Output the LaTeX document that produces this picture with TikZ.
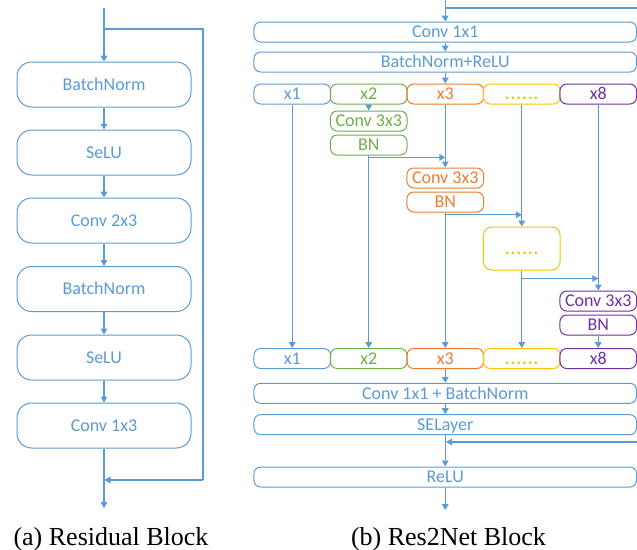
\documentclass[tikz,border=0pt]{standalone}
\usepackage{fontspec}
\setmainfont{Carlito}
\newfontfamily\capfont{Liberation Serif}
\usetikzlibrary{arrows.meta}
\definecolor{cblue}{HTML}{5B9BD5}
\definecolor{cgreen}{HTML}{70AD47}
\definecolor{corange}{HTML}{ED7D31}
\definecolor{cyellow}{HTML}{FFC000}
\definecolor{cpurple}{HTML}{7030A0}
\newcommand\sixdots{\textbf{.\kern0.7pt.\kern0.7pt.\kern0.7pt.\kern0.7pt.\kern0.7pt.}}
\begin{document}
\begin{tikzpicture}[x=0.75pt,y=-0.75pt,
  every node/.style={font=\fontsize{13.5}{16}\selectfont, inner sep=0pt, text height=8.7pt, text depth=0pt},
  bigbox/.style={draw=cblue, text=cblue, line width=0.75pt, rounded corners=11pt, minimum width=130.5pt, minimum height=33.75pt},
  widebox/.style={draw=cblue, text=cblue, line width=0.75pt, rounded corners=5pt, minimum width=286.9pt, minimum height=15pt},
  rowbox/.style={draw=#1, text=#1, line width=0.75pt, rounded corners=5pt, minimum width=57.4pt, minimum height=15pt},
  tallbox/.style={draw=#1, text=#1, line width=0.75pt, rounded corners=6pt, minimum width=57.4pt, minimum height=32.25pt},
  arr/.style={draw=cblue, line width=0.9pt, -{Triangle[length=4.5pt,width=5pt]}},
  ln/.style={draw=cblue, line width=0.9pt},
  capt/.style={font=\capfont\fontsize{19.5}{22}\selectfont, text=black, anchor=base, text height=13pt, text depth=4pt}
]
\useasboundingbox (0,0) rectangle (637,550);

% ---------- (a) Residual Block ----------
\node[bigbox] (l1) at (104,84.5) {BatchNorm};
\node[bigbox] (l2) at (104,152.5) {SeLU};
\node[bigbox] (l3) at (104,220.5) {Conv 2x3};
\node[bigbox] (l4) at (104,289) {BatchNorm};
\node[bigbox] (l5) at (104,357.5) {SeLU};
\node[bigbox] (l6) at (104,425.5) {Conv 1x3};
\coordinate (lin) at (104,8);
\coordinate (lsplit) at (104,29);
\coordinate (lc1) at (203,29);
\coordinate (lc2) at (203,480);
\coordinate (lmerge) at (104.5,480);
\coordinate (lout) at (104,508);
\draw[arr] (lin) -- (l1);
\draw[arr] (l1) -- (l2);
\draw[arr] (l2) -- (l3);
\draw[arr] (l3) -- (l4);
\draw[arr] (l4) -- (l5);
\draw[arr] (l5) -- (l6);
\draw[arr] (l6) -- (lout);
\draw[ln] (lsplit) -- (lc1) -- (lc2);
\draw[arr] (lc2) -- (lmerge);
\node[capt] (capa) at (111,545) {(a) Residual Block};

% ---------- (b) Res2Net Block ----------
\node[widebox] (c1) at (445.25,32) {Conv 1x1};
\node[widebox] (bnr) at (445.25,62) {BatchNorm+ReLU};
\node[rowbox=cblue] (a1) at (292.25,94) {x1};
\node[rowbox=cgreen] (a2) at (368.75,94) {x2};
\node[rowbox=corange] (a3) at (445.25,94) {x3};
\node[rowbox=cyellow] (a4) at (521.75,94) {\sixdots};
\node[rowbox=cpurple] (a5) at (598.25,94) {x8};

\node[rowbox=cgreen] (g1) at (368.75,121) {Conv 3x3};
\node[rowbox=cgreen] (g2) at (368.75,145) {BN};
\node[rowbox=corange] (o1) at (445.25,178) {Conv 3x3};
\node[rowbox=corange] (o2) at (445.25,202) {BN};
\node[tallbox=cyellow] (yb) at (521.75,248.5) {\sixdots};
\node[rowbox=cpurple] (p1) at (598.25,301) {Conv 3x3};
\node[rowbox=cpurple] (p2) at (598.25,325) {BN};

\node[rowbox=cblue] (b1) at (292.25,358.5) {x1};
\node[rowbox=cgreen] (b2) at (368.75,358.5) {x2};
\node[rowbox=corange] (b3) at (445.25,358.5) {x3};
\node[rowbox=cyellow] (b4) at (521.75,358.5) {\sixdots};
\node[rowbox=cpurple] (b5) at (598.25,358.5) {x8};

\node[widebox] (c2) at (445.25,393.3) {Conv 1x1 + BatchNorm};
\node[widebox] (se) at (445.25,424.7) {SELayer};
\node[widebox] (relu) at (445.25,477) {ReLU};

\coordinate (rin) at (445.25,0);
\coordinate (rsplit) at (445.25,8);
\coordinate (rright) at (637,8);
\coordinate (rret) at (637,442);
\coordinate (rjoin) at (446,442);
\coordinate (rout) at (445.25,510);

\draw[arr] (rin) -- (c1);
\draw[ln] (rsplit) -- (rright);
\draw[arr] (c1) -- (bnr);
\draw[arr] (bnr) -- (a3);

\draw[arr] (a1) -- (b1);
\draw[arr] (a2) -- (g1);
\draw[arr] (g2) -- (b2);
\draw[arr] ([yshift=-1.5pt]g2.south) -- ([yshift=-1.5pt]g2.south -| o1.north);
\draw[arr] (a3) -- (o1);
\draw[arr] (o2) -- (b3);
\draw[arr] ([yshift=-1.7pt]o2.south) -- ([yshift=-1.7pt]o2.south -| yb.north);
\draw[arr] (a4) -- (yb);
\draw[arr] (yb) -- (b4);
\draw[arr] ([yshift=-6pt]yb.south) -- ([yshift=-6pt]yb.south -| p1.north);
\draw[arr] (a5) -- (p1);
\draw[arr] (p2) -- (b5);

\draw[arr] (b3) -- (c2);
\draw[arr] (c2) -- (se);
\draw[arr] (se) -- (relu);
\draw[arr] (rret) -- (rjoin);
\draw[arr] (relu) -- (rout);
\node[capt] (capb) at (448.5,545) {(b) Res2Net Block};
\end{tikzpicture}
\end{document}
